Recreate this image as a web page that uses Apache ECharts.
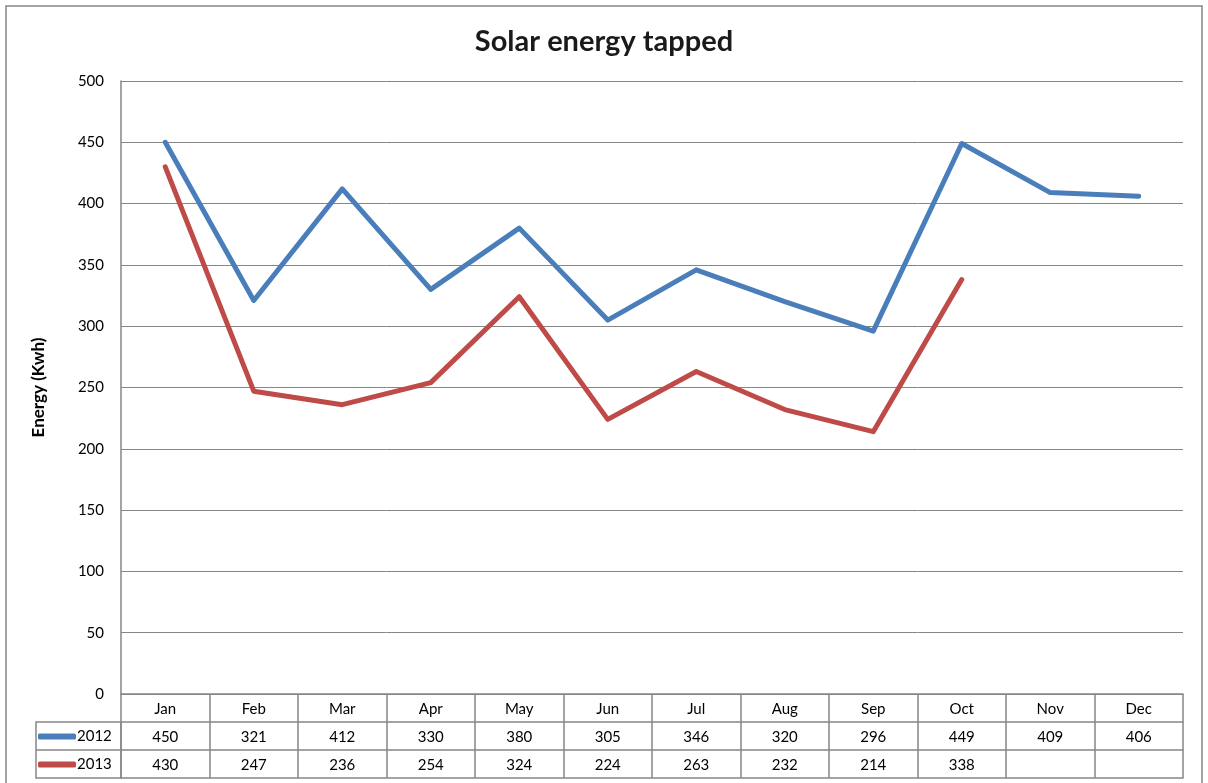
<!DOCTYPE html>
<html>
<head>
<meta charset="utf-8">
<script src="https://cdn.jsdelivr.net/npm/echarts@6/dist/echarts.min.js"></script>
<style>
html,body{margin:0;padding:0;background:#fff;}
#chart{width:1208px;height:783px;}
</style>
</head>
<body>
<div id="chart"></div>
<script>
const months = ['Jan','Feb','Mar','Apr','May','Jun','Jul','Aug','Sep','Oct','Nov','Dec'];
const seriesNames = ['2012','2013'];
const values2012 = [450,321,412,330,380,305,346,320,296,449,409,406];
const values2013 = [430,247,236,254,324,224,263,232,214,338,null,null];
const yTicks = {min:0, max:500, interval:50};
const titleText = 'Solar energy tapped';
const yAxisName = 'Energy (Kwh)';

const FONT = 'Lato, "Open Sans", sans-serif';
const GRAY = '#868686';
const colors = ['#4a7ebb','#be4b48'];

const chart = echarts.init(document.getElementById('chart'), null, {renderer:'canvas'});

function tableAxis(data, offset, showLabel, showTick){
  return {
    type:'category', data:data, position:'bottom', offset:offset, boundaryGap:true,
    axisLine:{show:true, lineStyle:{color:GRAY, width:1.5}},
    axisTick:{show:showTick, interval:0, length:28, inside:false, lineStyle:{color:GRAY, width:1.5}},
    axisLabel:{show:showLabel, interval:0, margin:8, color:'#000', fontSize:15, fontFamily:FONT},
    splitLine:{show:false}
  };
}

const fmt = v => (v === null || v === undefined) ? '' : String(v);

chart.setOption({
  animation:false,
  backgroundColor:'#fff',
  title:{
    text:titleText, left:'center', top:22,
    textStyle:{fontFamily:FONT, fontWeight:'bold', fontSize:29, color:'#1a1a1a'}
  },
  legend:{
    data:seriesNames, orient:'vertical', left:38, top:729, padding:0,
    itemWidth:38, itemHeight:6, itemGap:13, icon:'roundRect',
    textStyle:{fontFamily:FONT, fontSize:15, color:'#000', padding:[0,0,0,-4]}
  },
  grid:{left:121, right:25, top:81, bottom:89, containLabel:false},
  xAxis:[
    tableAxis(months, 0, true, true),
    tableAxis(values2012.map(fmt), 28, true, true),
    tableAxis(values2013.map(fmt), 56, true, true),
    tableAxis(months.map(()=>''), 84, false, false)
  ],
  yAxis:{
    type:'value', min:yTicks.min, max:yTicks.max, interval:yTicks.interval,
    name:yAxisName, nameLocation:'middle', nameGap:74,
    nameTextStyle:{fontFamily:FONT, fontWeight:'bold', fontSize:17, color:'#000'},
    axisLine:{show:true, lineStyle:{color:GRAY, width:1.5}},
    axisTick:{show:false},
    axisLabel:{color:'#000', fontSize:15, fontFamily:FONT, margin:17},
    splitLine:{show:true, lineStyle:{color:GRAY, width:1}}
  },
  series:[
    {name:seriesNames[0], type:'line', data:values2012, xAxisIndex:0, symbol:'none',
     lineStyle:{color:colors[0], width:5, cap:'round', join:'round'}, itemStyle:{color:colors[0]}},
    {name:seriesNames[1], type:'line', data:values2013, xAxisIndex:0, symbol:'none',
     lineStyle:{color:colors[1], width:5, cap:'round', join:'round'}, itemStyle:{color:colors[1]}}
  ],
  graphic:[
    {type:'rect', silent:true, z:-1, shape:{x:6, y:6, width:1196, height:820},
     style:{fill:'none', stroke:GRAY, lineWidth:1.5}},
    {type:'rect', silent:true, shape:{x:36, y:722, width:85, height:56},
     style:{fill:'none', stroke:GRAY, lineWidth:1.5}},
    {type:'line', silent:true, shape:{x1:36, y1:750, x2:121, y2:750},
     style:{stroke:GRAY, lineWidth:1.5}}
  ]
});
</script>
</body>
</html>
